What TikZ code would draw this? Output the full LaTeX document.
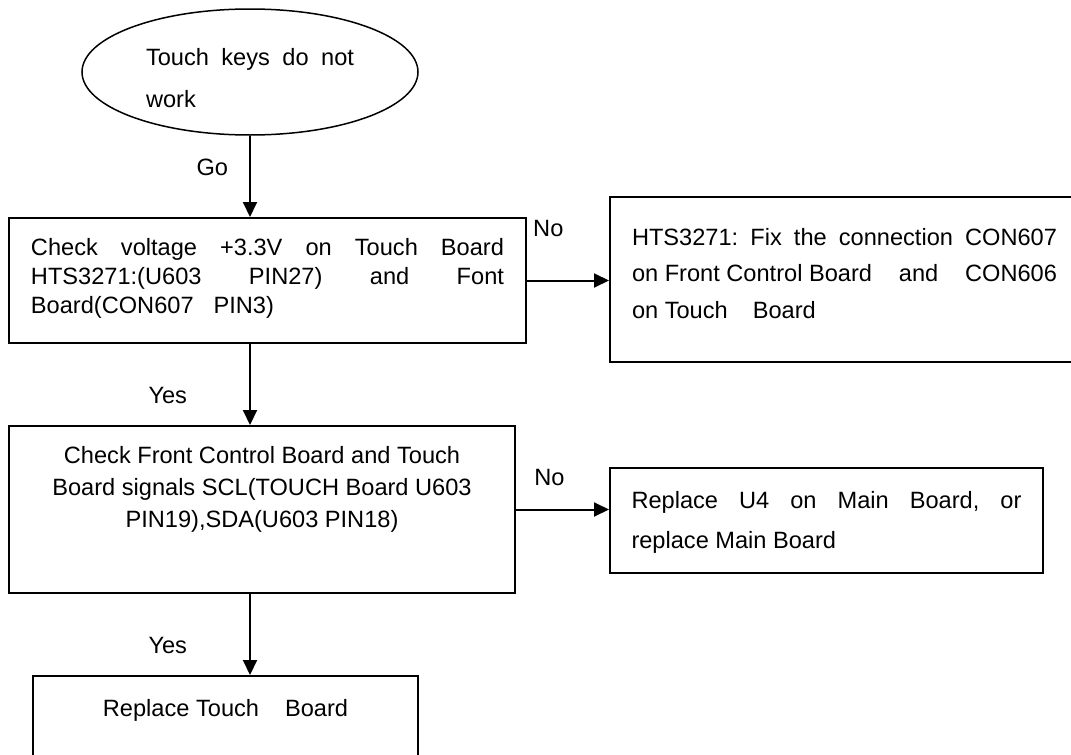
\documentclass[tikz,border=0pt]{standalone}
\usepackage{fontspec}
\setmainfont{Liberation Sans}
\usetikzlibrary{arrows.meta,shapes.geometric}

% width, height, top gap, line skip, text
\newcommand{\boxtext}[5]{%
  \parbox[c][#2][t]{#1}{\baselineskip=#4\vspace*{#3}#5}}

\begin{document}
\begin{tikzpicture}[
    x=0.5pt, y=-0.5pt,
    every node/.style={font=\fontsize{11.8}{14}\selectfont},
    stepbox/.style={draw, rectangle, line width=1pt, inner ysep=0pt},
    flow/.style={-{Triangle[length=7.5pt,width=7pt]}, line width=1pt},
    lbl/.style={inner sep=0pt}
]

\useasboundingbox (0,0) rectangle (1071,755);

% Start of the check
\node[ellipse, draw, line width=0.75pt, minimum width=168pt, minimum height=63pt, inner sep=0pt] (start) at (250,72)
    {\boxtext{104pt}{40pt}{8pt}{21pt}{Touch\hfill keys\hfill do\hfill not\\work}};

% Checks on the left
\node[stepbox, inner xsep=11pt] (chk) at (267.5,280.5)
    {\boxtext{236.5pt}{62.5pt}{10pt}{14.5pt}{Check\hfill voltage\hfill +3.3V\hfill on\hfill Touch\hfill Board\\
     HTS3271:(U603\hfill PIN27)\hfill and\hfill Font\\
     Board(CON607\hspace{10pt}PIN3)}};
\node[stepbox, inner xsep=9pt] (sig) at (262,509.5)
    {\boxtext{235pt}{83.5pt}{10pt}{16pt}{\centering Check Front Control Board and Touch\\
     Board signals SCL(TOUCH Board U603\\
     PIN19),SDA(U603 PIN18)}};
\node[stepbox, inner xsep=0pt] (tch) at (225.5,733)
    {\boxtext{192.5pt}{57pt}{11.5pt}{14pt}{\centering Replace Touch\hspace{13pt}Board}};

% Repairs on the right
\node[stepbox, inner xsep=11pt] (fix) at (844.5,279.5)
    {\boxtext{212.5pt}{82.5pt}{15.5pt}{18.25pt}{HTS3271:\hfill Fix\hfill the\hfill connection\hfill CON607\\
     on Front Control Board\hfill and\hfill CON606\\
     on Touch\hspace{12.5pt}Board}};
\node[stepbox, inner xsep=10.75pt] (rep) at (826.5,520.5)
    {\boxtext{195pt}{52.5pt}{11.5pt}{20pt}{Replace\hfill U4\hfill on\hfill Main\hfill Board,\hfill or\\
     replace Main Board}};

% Down the main line
\draw[flow] (start.south) -- (start.south |- chk.north) node[lbl, pos=0.386, left=10.5pt] {Go};
\draw[flow] (start.south |- chk.south) -- (start.south |- sig.north) node[lbl, pos=0.63, left=31pt] {Yes};
\draw[flow] (start.south |- sig.south) -- (start.south |- tch.north) node[lbl, pos=0.63, left=31pt] {Yes};

% Side branches
\draw[flow] (chk.east) -- (chk.east -| fix.west) node[lbl, pos=0.26, above=21.5pt] {No};
\draw[flow] (sig.east) -- (sig.east -| rep.west) node[lbl, pos=0.36, above=11.5pt] {No};

\end{tikzpicture}
\end{document}
